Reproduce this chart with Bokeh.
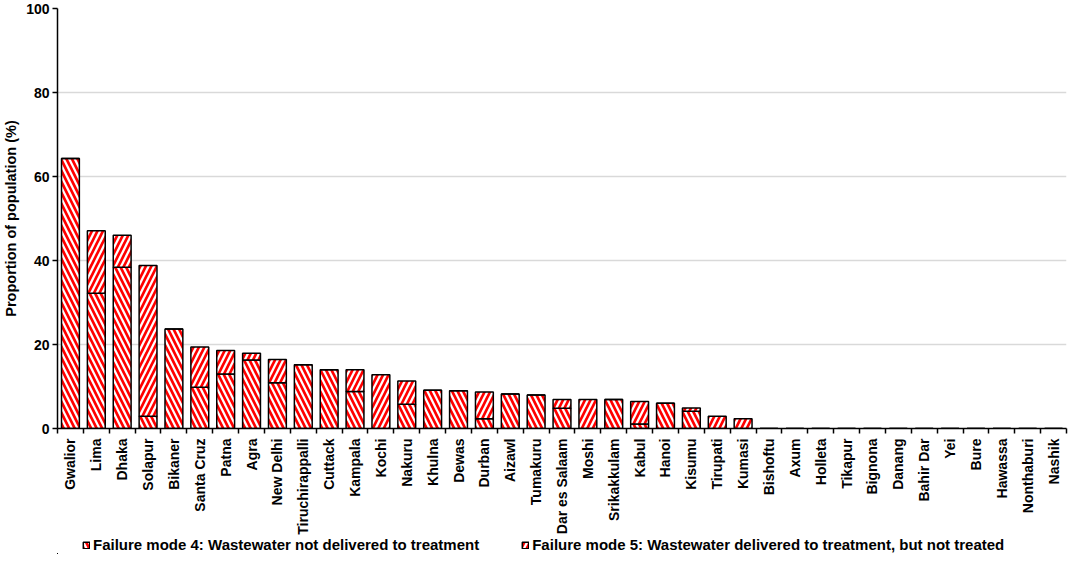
import math
from bokeh.plotting import figure
from bokeh.layouts import column
from bokeh.models import Range1d, FixedTicker, Legend, LegendItem, ColumnDataSource
from bokeh.embed import file_html
from bokeh.resources import INLINE

cities = ["Gwalior", "Lima", "Dhaka", "Solapur", "Bikaner", "Santa Cruz", "Patna", "Agra",
          "New Delhi", "Tiruchirappalli", "Cuttack", "Kampala", "Kochi", "Nakuru", "Khulna",
          "Dewas", "Durban", "Aizawl", "Tumakuru", "Dar es Salaam", "Moshi", "Srikakkulam",
          "Kabul", "Hanoi", "Kisumu", "Tirupati", "Kumasi", "Bishoftu", "Axum", "Holleta",
          "Tikapur", "Bignona", "Danang", "Bahir Dar", "Yei", "Bure", "Hawassa", "Nonthaburi",
          "Nashik"]
mode4 = [64.3, 32.2, 38.4, 2.9, 23.7, 9.8, 13.0, 16.3, 10.9, 15.2, 14.0, 8.8, 0.0, 5.8, 9.1,
         9.0, 2.3, 8.2, 8.0, 4.8, 0.0, 6.9, 1.1, 6.0, 4.1, 0.0, 0.0, 0, 0, 0,
         0, 0, 0, 0, 0, 0, 0, 0, 0]
mode5 = [0.0, 14.9, 7.6, 35.9, 0.0, 9.6, 5.6, 1.6, 5.5, 0.0, 0.0, 5.2, 12.8, 5.5, 0.0,
         0.0, 6.4, 0.0, 0.0, 2.1, 6.9, 0.0, 5.3, 0.0, 0.8, 2.9, 2.3, 0, 0, 0,
         0, 0, 0, 0, 0, 0, 0, 0, 0]
yticks = [0, 20, 40, 60, 80, 100]
labels = ["Failure mode 4: Wastewater not delivered to treatment",
          "Failure mode 5: Wastewater delivered to treatment, but not treated"]

n = len(cities)
xs = list(range(n))
source = ColumnDataSource(dict(x=xs, m4=mode4, m5=mode5))

FONT = "Liberation Sans"
HATCH = dict(fill_color="white", line_color="black", line_width=1.5,
             hatch_color="#ff0000", hatch_scale=11, hatch_weight=2.7)
PATTERNS = ["\\", "/"]

p = figure(width=1068, height=537, output_backend="svg", toolbar_location=None,
           x_range=Range1d(-0.5, n - 0.5), y_range=Range1d(0, 100),
           min_border_left=50, min_border_right=2, min_border_top=8,
           min_border_bottom=109)
p.outline_line_color = None

rs = p.vbar_stack(["m4", "m5"], x="x", width=0.69, source=source,
                  hatch_pattern=PATTERNS, **HATCH)

p.xaxis.ticker = FixedTicker(ticks=xs, minor_ticks=[i - 0.5 for i in range(n + 1)])
p.xaxis.major_label_overrides = {i: c for i, c in enumerate(cities)}
p.xaxis.major_label_orientation = math.pi / 2
p.xaxis.major_tick_line_color = None
p.xaxis.minor_tick_in = 0
p.xaxis.minor_tick_out = 5
p.xaxis.minor_tick_line_color = "black"
p.xaxis.minor_tick_line_width = 1.5
p.xaxis.axis_line_color = "black"
p.xaxis.axis_line_width = 1.5
p.xaxis.major_label_text_font = FONT
p.xaxis.major_label_text_font_style = "bold"
p.xaxis.major_label_text_font_size = "14px"
p.xaxis.major_label_text_color = "black"
p.xaxis.major_label_standoff = 4

p.yaxis.ticker = FixedTicker(ticks=yticks)
p.yaxis.minor_tick_line_color = None
p.yaxis.major_tick_in = 0
p.yaxis.major_tick_out = 5
p.yaxis.major_tick_line_width = 1.5
p.yaxis.axis_line_width = 1.5
p.yaxis.major_label_text_font = FONT
p.yaxis.major_label_text_font_style = "bold"
p.yaxis.major_label_text_font_size = "14px"
p.yaxis.major_label_text_color = "black"
p.yaxis.major_label_standoff = 3
p.yaxis.axis_label = "Proportion of population (%)"
p.yaxis.axis_label_text_font = FONT
p.yaxis.axis_label_text_font_style = "bold"
p.yaxis.axis_label_text_font_size = "14.5px"
p.yaxis.axis_label_text_color = "black"
p.yaxis.axis_label_standoff = 4

p.xgrid.grid_line_color = None
p.ygrid.grid_line_color = "#d9d9d9"
p.ygrid.grid_line_width = 1.5

# legend strip below the chart (same series drawn out of view, only for the key)
lf = figure(width=1068, height=17, output_backend="svg", toolbar_location=None,
            x_range=Range1d(1000, 2000), y_range=Range1d(1000, 2000),
            min_border=0, x_axis_type=None, y_axis_type=None)
lf.outline_line_color = None
lf.xgrid.grid_line_color = None
lf.ygrid.grid_line_color = None
gs = lf.vbar_stack(["m4", "m5"], x="x", width=0.69, source=source,
                   hatch_pattern=PATTERNS, **HATCH)

legend = Legend(items=[LegendItem(label=labels[0], renderers=[gs[0]]),
                       LegendItem(label=labels[1], renderers=[gs[1]])],
                orientation="horizontal", location=(25, 1))
legend.label_text_font = FONT
legend.label_text_font_style = "bold"
legend.label_text_font_size = "15px"
legend.label_text_color = "black"
legend.glyph_width = 8
legend.glyph_height = 8
legend.label_standoff = 3
legend.spacing = 42
legend.padding = 0
legend.margin = 0
legend.border_line_color = None
legend.background_fill_alpha = 0
legend.label_height = 15
lf.add_layout(legend, "center")

layout = column(p, lf, spacing=0)
open("out.html", "w").write(file_html(layout, INLINE))
